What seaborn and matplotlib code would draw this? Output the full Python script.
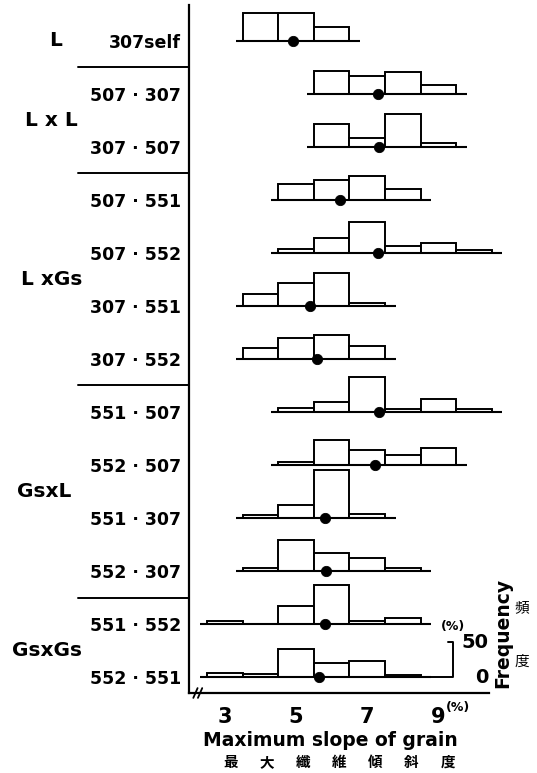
import numpy as np
import pandas as pd
import matplotlib
matplotlib.use('Agg')
import matplotlib.pyplot as plt
import seaborn as sns
from matplotlib.transforms import blended_transform_factory

# data (frequency in %, bins 1 unit wide centred on integers)
crosses = ['307self', '507 · 307', '307 · 507', '507 · 551', '507 · 552', '307 · 551',
           '307 · 552', '551 · 507', '552 · 507', '551 · 307', '552 · 307',
           '551 · 552', '552 · 551']
first_bin = [4, 6, 6, 5, 5, 4, 4, 5, 5, 4, 4, 3, 3]
freq = [
    [40, 40, 20],
    [32, 25, 31, 12],
    [33, 12, 47, 6],
    [23, 28, 34, 15],
    [5, 21, 44, 10, 14, 4],
    [17, 32, 47, 4],
    [16, 30, 34, 18],
    [6, 15, 50, 5, 18, 4],
    [5, 36, 21, 14, 24],
    [5, 19, 69, 6],
    [5, 45, 26, 19, 4],
    [4, 0, 26, 56, 4, 9],
    [6, 5, 40, 20, 24, 4],
]
means = [4.91, 7.31, 7.32, 6.24, 7.30, 5.38, 5.59, 7.33, 7.23, 5.81, 5.85, 5.81, 5.64]
groups = ['L', 'L x L', 'L xGs', 'GsxL', 'GsxGs']
group_rows = [[0], [1, 2], [3, 4, 5, 6], [7, 8, 9, 10], [11, 12]]
x_ticks = [3, 5, 7, 9]

sns.set_theme(style='white', rc={'text.color': 'black', 'xtick.color': 'black',
                                 'ytick.color': 'black', 'axes.labelcolor': 'black',
                                 'axes.edgecolor': 'black'})
plt.rcParams['font.family'] = ['DejaVu Sans', 'Noto Sans CJK JP']

W, H = 537, 773
fig = plt.figure(figsize=(W / 100, H / 100), dpi=100)
ax = fig.add_axes([189.4 / W, 1 - 693 / H, 316.6 / W, 688 / H])

ROW_H = 75.8
YLO = -22.4
YHI = YLO + 688 / 0.70
n = len(crosses)
baselines = [(n - 1 - i) * ROW_H for i in range(n)]

ax.set_ylim(YLO, YHI)
ax.set_xlim(2.0, 10.9)
for s in ['top', 'right']:
    ax.spines[s].set_visible(False)
ax.spines['left'].set_linewidth(1.6)
ax.spines['bottom'].set_linewidth(1.6)
ax.spines['bottom'].set_bounds(2.0, 10.42)

ax.set_yticks(baselines, crosses, fontsize=12.5, fontweight='bold')
ax.tick_params(axis='y', direction='in', length=4, width=1.3, pad=6)
ax.set_xticks(x_ticks, [str(t) for t in x_ticks], fontsize=15, fontweight='bold')
ax.set_xticks([4, 6, 8, 10], minor=True)
ax.tick_params(axis='x', which='major', direction='in', length=5.5, width=1.4, pad=10)
ax.tick_params(axis='x', which='minor', direction='in', length=2.5, width=1.4)
ax.grid(False)

# axis break
for xb in [2.17, 2.3]:
    ax.plot([xb - 0.06, xb + 0.06], [YLO - 7, YLO + 7], color='black', lw=1.3, clip_on=False)

for i, (start, h, m) in enumerate(zip(first_bin, freq, means)):
    centers = start + np.arange(len(h))
    edges = list(np.append(centers - 0.5, centers[-1] + 0.5))
    df = pd.DataFrame({'slope': centers.astype(float), 'pct': np.array(h, dtype=float)})
    rax = ax.inset_axes([0, baselines[i], 1, ROW_H], transform=ax.get_yaxis_transform(), sharex=ax)
    sns.histplot(data=df, x='slope', weights='pct', bins=edges, ax=rax, color='white',
                 edgecolor='black', linewidth=1.4, alpha=1)
    rax.plot([edges[0] - 0.2, edges[-1] + 0.3], [0, 0], color='black', lw=1.5,
             clip_on=False, solid_capstyle='butt')
    sns.scatterplot(x=[m], y=[0], ax=rax, s=55, color='black', edgecolor='black',
                    clip_on=False, zorder=5)
    rax.set_ylim(0, ROW_H)
    rax.set_xlabel('')
    rax.set_ylabel('')
    rax.tick_params(labelbottom=False, labelleft=False, bottom=False, left=False)
    rax.axis('off')

# 0-50 % scale bar on the last row
rax.plot([9.28, 9.41, 9.41, 8.8], [50, 50, 0, 0], color='black', lw=1.4, clip_on=False)
rax.text(10.03, 50, '50', fontsize=14, fontweight='bold', ha='center', va='center')
rax.text(10.22, 0, '0', fontsize=14, fontweight='bold', ha='center', va='center')
rax.text(9.41, 72, '(%)', fontsize=9, fontweight='bold', ha='center', va='center')
ax.set_xlim(2.0, 10.9)

# group separators and labels
trans = blended_transform_factory(ax.transAxes, ax.transData)
for b in [0, 2, 6, 10]:
    y = (baselines[b] + baselines[b + 1]) / 2
    ax.plot([-0.352, 0], [y, y], transform=trans, clip_on=False, color='black', lw=1.4)
group_x = [56, 51, 52, 44, 47]
for g, rows, gx in zip(groups, group_rows, group_x):
    y = np.mean([baselines[r] for r in rows])
    ax.text((gx - 189.4) / 316.6, y, g, transform=trans, fontsize=14.5,
            fontweight='bold', ha='center', va='center')

fig.text(458 / W, 1 - 707 / H, '(%)', fontsize=9, fontweight='bold', ha='center', va='center')
fig.text(330 / W, 1 - 740 / H, 'Maximum slope of grain', fontsize=13.5, fontweight='bold',
         ha='center', va='center')
for k, ch in enumerate('最大纖維傾斜度'):
    fig.text((231 + k * 36.1) / W, 1 - 762 / H, ch, fontsize=10.5, family='Noto Sans CJK JP',
             fontweight='bold', ha='center', va='center')
fig.text(503 / W, 1 - 633 / H, 'Frequency', rotation=90, fontsize=13.5, fontweight='bold',
         ha='center', va='center')
fig.text(522 / W, 1 - 608 / H, '頻', fontsize=10.5, family='Noto Sans CJK JP', ha='center', va='center')
fig.text(522 / W, 1 - 662 / H, '度', fontsize=10.5, family='Noto Sans CJK JP', ha='center', va='center')

fig.savefig('out.png', dpi=100, facecolor='white')
